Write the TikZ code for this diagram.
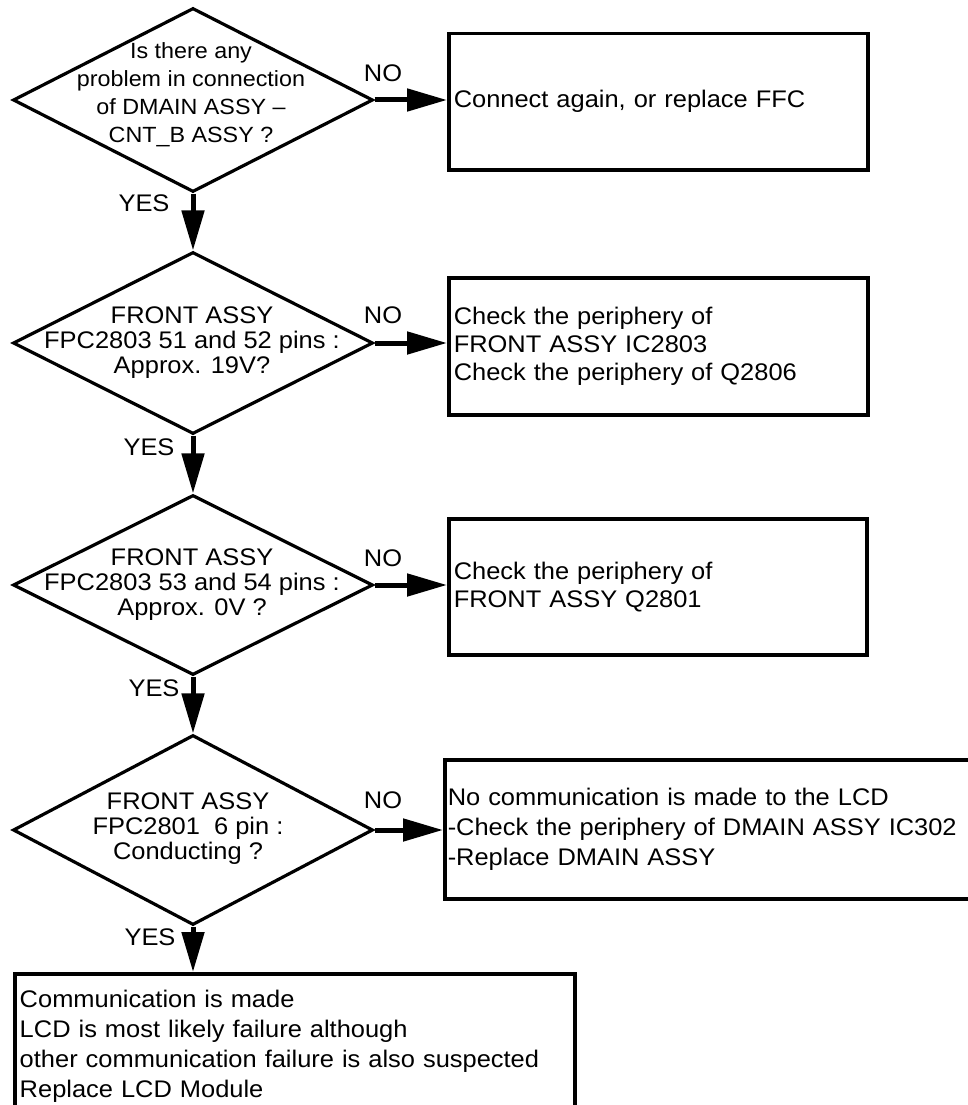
\documentclass[tikz,border=0pt]{standalone}
\usepackage{fontspec}
\setmainfont{Liberation Sans}[FakeStretch=1.06]
\usetikzlibrary{arrows.meta,shapes.geometric}
\begin{document}
\begin{tikzpicture}[x=1pt,y=-1pt,
  txt/.style={font=\fontsize{24}{28}\selectfont, inner sep=0pt},
  box/.style={draw, line width=3.5pt, rectangle, anchor=north west, inner ysep=0pt, inner xsep=5pt, align=left, font=\fontsize{24}{28}\selectfont},
  dia/.style={draw, line width=3.2pt, diamond, inner sep=0pt, minimum width=360pt, minimum height=182pt},
  dtext/.style={align=center, inner sep=0pt, font=\fontsize{24}{25}\selectfont},
  arr/.style={line width=5pt, -{Triangle[length=40pt,width=22pt]}}]
\useasboundingbox (0,0) rectangle (968,1105);
\fill[white] (0,0) rectangle (968,1105);
% decisions
\node[dia, minimum height=184pt] (d1) at (193,100) {};
\node[dia] (d2) at (193,343) {};
\node[dia, minimum height=180pt] (d3) at (193,585) {};
\node[dia, minimum height=190pt] (d4) at (193,830) {};
\node[dtext, font=\fontsize{22}{28}\selectfont] (d1t) at (191,95) {Is there any\\problem in connection\\of DMAIN ASSY --\\CNT\_B ASSY ?};
\node[dtext] (d2t) at (192,343) {FRONT ASSY\\FPC2803 51 and 52 pins :\\Approx. 19V?};
\node[dtext] (d3t) at (192,585) {FRONT ASSY\\FPC2803 53 and 54 pins :\\Approx. 0V ?};
\node[dtext] (d4t) at (188,829) {FRONT ASSY\\FPC2801\ \ 6 pin :\\Conducting ?};
% boxes
\node[box, minimum width=419pt, minimum height=136pt, text width=409pt] (b1) at (447,32) {Connect again, or replace FFC};
\node[box, minimum width=419pt, minimum height=137pt, text width=409pt] (b2) at (447,276) {Check the periphery of\\FRONT ASSY IC2803\\Check the periphery of Q2806};
\node[box, minimum width=418pt, minimum height=136pt, text width=408pt] (b3) at (447,517) {Check the periphery of\\FRONT ASSY Q2801};
\node[box, inner xsep=3pt, minimum width=560pt, minimum height=139pt, text width=554pt, font=\fontsize{24}{30}\selectfont] (b4) at (443,758) {No communication is made to the LCD\\-Check the periphery of DMAIN ASSY IC302\\-Replace DMAIN ASSY};
\node[box, minimum width=560pt, minimum height=146pt, text width=550pt, font=\fontsize{24}{30}\selectfont] (b5) at (13,972) {Communication is made\\LCD is most likely failure although\\other communication failure is also suspected\\Replace LCD Module};
% connectors
\draw[arr] (d1.east) -- (d1.east -| b1.west);
\draw[arr] (d2.east) -- (d2.east -| b2.west);
\draw[arr] (d3.east) -- (d3.east -| b3.west);
\draw[arr] (d4.east) -- (d4.east -| b4.west);
\draw[arr] (d1.south) -- (d2.north);
\draw[arr] (d2.south) -- (d3.north);
\draw[arr] (d3.south) -- (d4.north);
\draw[arr] (d4.south) -- (d4.south |- b5.north);
% labels
\node[txt] (no1) at (383,73) {NO};
\node[txt] (no2) at (383,315) {NO};
\node[txt] (no3) at (383,558) {NO};
\node[txt] (no4) at (383,800) {NO};
\node[txt] (yes1) at (144,203) {YES};
\node[txt] (yes2) at (149,447) {YES};
\node[txt] (yes3) at (154,688) {YES};
\node[txt] (yes4) at (150,937) {YES};
\end{tikzpicture}
\end{document}
